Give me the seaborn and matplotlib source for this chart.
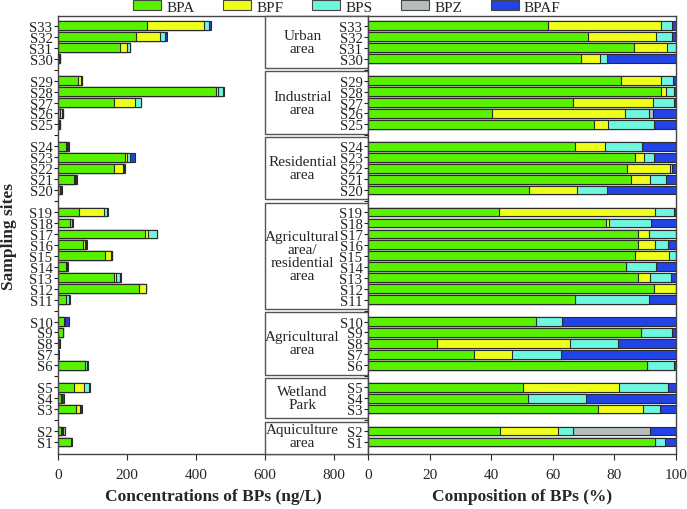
import numpy as np
import pandas as pd
import matplotlib
matplotlib.use("Agg")
import matplotlib.pyplot as plt
import seaborn as sns
from matplotlib.patches import Rectangle, Patch

# ---------------- data ----------------
sites = [f"S{i}" for i in range(1, 34)]
group_labels = ["Aquiculture\narea", "Wetland\nPark", "Agricultural\narea",
                "Agricultural\narea/\nresidential\narea", "Residential\narea",
                "Industrial\narea", "Urban\narea"]
group_first = [1, 3, 6, 11, 20, 25, 30]
group_last = [2, 5, 10, 19, 24, 29, 33]

# total concentration (ng/L), S1..S33
total = [40, 21, 70, 17, 92, 86, 2, 5, 15, 32,
         36, 255, 184, 29, 157, 83, 288, 44, 144,
         12, 54, 194, 224, 33,
         5, 15, 242, 481, 70,
         6, 208, 316, 444]
# composition (%), S1..S33
bpa = [93.3, 42.9, 74.6, 52.1, 50.3, 90.5, 34.3, 22.4, 88.6, 54.7,
       67.2, 92.7, 87.6, 83.7, 86.7, 87.6, 87.6, 77.4, 42.5,
       52.3, 85.4, 84.2, 86.6, 67.2,
       73.3, 40.3, 66.6, 95.2, 82.0,
       69.3, 86.5, 71.3, 58.5]
bpf = [0, 18.8, 14.6, 0, 31.3, 0, 12.5, 43.1, 0, 0,
       0, 7.3, 3.8, 0, 10.9, 5.6, 3.5, 0.9, 50.8,
       15.5, 6.3, 13.7, 3.0, 9.9,
       4.7, 43.3, 26.0, 1.6, 13.2,
       6.1, 10.5, 22.1, 36.7]
bps = [3.2, 5.0, 5.7, 18.8, 15.9, 8.7, 15.7, 15.6, 10.0, 8.2,
       23.9, 0, 7.0, 9.9, 2.4, 4.3, 8.9, 13.5, 5.9,
       9.9, 5.1, 0.9, 3.4, 12.0,
       14.7, 7.6, 6.6, 2.7, 3.8,
       2.1, 3.0, 5.3, 3.5]
bpz = [0, 24.7, 0, 0, 0, 0, 0, 0, 0, 0,
       0, 0, 0, 0, 0, 0, 0, 0, 0,
       0, 0, 0, 0, 0,
       0, 1.3, 0, 0, 0,
       0, 0, 0, 0]
bpaf = [3.5, 8.6, 5.1, 29.1, 2.5, 0.8, 37.5, 18.9, 1.4, 37.1,
        8.9, 0, 1.6, 6.4, 0, 2.5, 0, 8.2, 0.8,
        22.3, 3.2, 1.2, 7.0, 10.9,
        7.3, 7.5, 0.8, 0.5, 1.0,
        22.5, 0, 1.3, 1.3]
compounds = ["BPA", "BPF", "BPS", "BPZ", "BPAF"]
colors = ["#58F200", "#EEFF1A", "#6DF7DE", "#B5BDBD", "#2243E6"]

# ---------------- build tables ----------------
comp = np.array([bpa, bpf, bps, bpz, bpaf], dtype=float)
pct = comp / comp.sum(axis=0) * 100
conc = pct / 100 * np.array(total, dtype=float)

grp_idx = []
for i in range(1, 34):
    for g, (a, b) in enumerate(zip(group_first, group_last)):
        if a <= i <= b:
            grp_idx.append(g)
pos = np.array([i + g for i, g in zip(range(33), grp_idx)], dtype=float)

tick_pos = np.arange(0, 39)
tick_lab = [""] * 39
for p, s in zip(pos, sites):
    tick_lab[int(p)] = s

# ---------------- figure ----------------
sns.set_theme(style="ticks")
plt.rcParams["font.family"] = ["Liberation Serif", "DejaVu Serif"]
plt.rcParams["axes.edgecolor"] = "#333333"
plt.rcParams["axes.linewidth"] = 1.0

W, H = 687, 510
fig = plt.figure(figsize=(W / 100, H / 100), dpi=100)
y_top, y_bot = 17, 455
axL = fig.add_axes([58 / W, (H - y_bot) / H, (368 - 58) / W, (y_bot - y_top) / H])
axR = fig.add_axes([368 / W, (H - y_bot) / H, (676 - 368) / W, (y_bot - y_top) / H])

edge = "#2a2a2a"
for ax, mat in [(axL, conc), (axR, pct)]:
    cum = np.cumsum(mat, axis=0)
    for k in range(4, -1, -1):
        df = pd.DataFrame({"val": cum[k], "pos": pos})
        sns.barplot(data=df, x="val", y="pos", orient="h", native_scale=True,
                    color=colors[k], edgecolor=edge, linewidth=0.8, width=0.8,
                    saturation=1, errorbar=None, ax=ax)
    ax.set_ylim(-1.1, 38.9)
    ax.set_yticks(tick_pos)
    ax.set_yticklabels(tick_lab, fontsize=10.5)
    ax.tick_params(axis="y", length=3, width=0.8, pad=1, direction="out", colors="#222222")
    ax.tick_params(axis="x", length=4, width=0.8, pad=6, labelsize=11)
    ax.set_xlabel("")
    ax.set_ylabel("")
    for sp in ax.spines.values():
        sp.set_visible(True)
        sp.set_color("#444444")

axL.set_xlim(0, 900)
axL.set_xticks([0, 200, 400, 600, 800])
axR.set_xlim(0, 100)
axR.set_xticks([0, 20, 40, 60, 80, 100])
axR.set_facecolor("white")
axL.set_facecolor("white")

# group boxes with labels
for g, (a, b) in enumerate(zip(group_first, group_last)):
    lo = pos[a - 1] - 0.85
    hi = pos[b - 1] + 0.85
    if g == 0:
        lo = -1.1
    if g == len(group_first) - 1:
        hi = 38.9
    axL.add_patch(Rectangle((600, lo), 300, hi - lo, facecolor="white",
                            edgecolor="#555555", linewidth=1.0, zorder=3, clip_on=False))
    axL.text(710, (pos[a - 1] + pos[b - 1]) / 2, group_labels[g], ha="center",
             va="center", fontsize=11, linespacing=1.0, zorder=4)

# labels
fig.text(213 / W, 1 - 497 / H, "Concentrations of BPs (ng/L)", ha="center", va="center",
         fontsize=12.5, fontweight="bold")
fig.text(522 / W, 1 - 497 / H, "Composition of BPs (%)", ha="center", va="center",
         fontsize=12.5, fontweight="bold")
fig.text(9 / W, 1 - 236 / H, "Sampling sites", ha="center", va="center",
         rotation=90, fontsize=12.5, fontweight="bold")

handles = [Patch(facecolor=c, edgecolor="#444444", linewidth=0.8, label=n)
           for c, n in zip(colors, compounds)]
fig.legend(handles=handles, loc="center", bbox_to_anchor=(0.505, 1 - 8 / H), ncol=5,
           frameon=False, fontsize=11, handlelength=1.8, handleheight=0.65,
           handletextpad=0.35, columnspacing=1.9, borderpad=0)

fig.savefig("out.png", dpi=100)
